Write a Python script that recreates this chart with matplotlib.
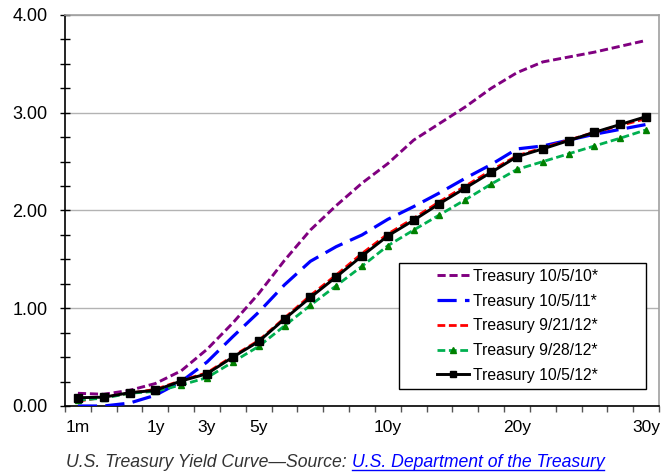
import numpy as np
import matplotlib
matplotlib.use("Agg")
import matplotlib.pyplot as plt
from matplotlib.patches import Rectangle
from matplotlib.lines import Line2D

# ---- data ----
maturities = ['1m', '3m', '6m', '1y', '2y', '3y', '4y', '5y', '6y', '7y', '8y', '9y',
              '10y', '12y', '14y', '16y', '18y', '20y', '22y', '24y', '26y', '28y', '30y']
shown_labels = ['1m', '1y', '3y', '5y', '10y', '20y', '30y']

y_10_5_10 = [0.13, 0.12, 0.16, 0.23, 0.36, 0.58, 0.85, 1.15, 1.49, 1.80, 2.05, 2.28,
             2.48, 2.72, 2.89, 3.06, 3.25, 3.41, 3.52, 3.57, 3.62, 3.68, 3.74]
y_10_5_11 = [0.00, 0.00, 0.03, 0.11, 0.25, 0.45, 0.71, 0.96, 1.24, 1.48, 1.63, 1.75,
             1.91, 2.04, 2.18, 2.33, 2.47, 2.63, 2.66, 2.72, 2.78, 2.83, 2.88]
y_9_21_12 = [0.05, 0.09, 0.13, 0.17, 0.26, 0.34, 0.51, 0.67, 0.90, 1.13, 1.34, 1.56,
             1.76, 1.92, 2.09, 2.25, 2.41, 2.56, 2.64, 2.72, 2.80, 2.87, 2.94]
y_9_28_12 = [0.06, 0.08, 0.13, 0.15, 0.215, 0.29, 0.45, 0.61, 0.82, 1.03, 1.23, 1.43,
             1.64, 1.80, 1.955, 2.11, 2.27, 2.42, 2.50, 2.58, 2.66, 2.74, 2.825]
y_10_5_12 = [0.085, 0.09, 0.136, 0.16, 0.256, 0.33, 0.50, 0.66, 0.89, 1.11, 1.32, 1.535,
             1.74, 1.90, 2.07, 2.23, 2.39, 2.55, 2.63, 2.715, 2.80, 2.88, 2.96]

plt.rcParams['font.family'] = ['Liberation Sans', 'DejaVu Sans']

fig = plt.figure(figsize=(6.62, 4.73), dpi=100, facecolor='white')
ax = fig.add_axes([65 / 662, 1 - 406 / 473, 594 / 662, 391 / 473])

x = np.arange(len(maturities))

ax.plot(x, y_10_5_10, color='#800080', lw=2.1, dashes=(2.8, 1.3), label='Treasury 10/5/10*', zorder=3)
ax.plot(x, y_10_5_11, color='#0000FF', lw=2.3, dashes=(6.0, 2.6), label='Treasury 10/5/11*', zorder=3)
ax.plot(x, y_9_21_12, color='#FF0000', lw=2.0, dashes=(2.8, 1.3), label='Treasury 9/21/12*', zorder=4)
ax.plot(x, y_9_28_12, color='#00B050', lw=2.0, dashes=(2.8, 1.3), marker='^', markersize=5,
        markerfacecolor='#008000', markeredgecolor='#008000', label='Treasury 9/28/12*', zorder=4)
ax.plot(x, y_10_5_12, color='black', lw=2.1, marker='s', markersize=5.5,
        label='Treasury 10/5/12*', zorder=5)

# axes ranges / ticks
ax.set_xlim(-0.5, len(maturities) - 0.5)
ax.set_ylim(0, 4)

ax.set_yticks(np.arange(0, 4.01, 1.0))
ax.set_yticklabels([f"{v:.2f}" for v in np.arange(0, 4.01, 1.0)], fontsize=13)
ax.set_yticks(np.arange(0, 4.01, 0.25), minor=True)
ax.tick_params(axis='y', which='both', direction='inout', length=7, width=1, pad=9)

lab_pos = [maturities.index(m) for m in shown_labels]
ax.set_xticks(lab_pos)
ax.set_xticklabels(shown_labels, fontsize=12.5)
ax.set_xticks(np.arange(-0.5, len(maturities)), minor=True)
ax.tick_params(axis='x', which='major', length=0, pad=10)
ax.tick_params(axis='x', which='minor', direction='out', length=4.5, width=1, color='#555555')

ax.grid(True, axis='y', which='major', color='#b3b3b3', lw=1)
ax.set_axisbelow(True)

for side in ['top', 'right']:
    ax.spines[side].set_color('#a0a0a0')
    ax.spines[side].set_linewidth(1.2)
for side in ['left', 'bottom']:
    ax.spines[side].set_color('black')
    ax.spines[side].set_linewidth(1.2)

# legend box drawn by hand so it can be wider than its content
ax.add_patch(Rectangle((0.562, 0.0435), 0.416, 0.322, transform=ax.transAxes,
                       facecolor='white', edgecolor='black', lw=1, zorder=6))
leg = ax.legend(loc='center', bbox_to_anchor=(0.762, 0.205), frameon=False, fontsize=11.3,
                handlelength=2.0, handletextpad=0.25, labelspacing=0.62, markerscale=0.8)
leg.set_zorder(7)

# caption with underlined blue "link" part
fig.canvas.draw()
renderer = fig.canvas.get_renderer()
t1 = fig.text(66 / 662, 1 - 462 / 473, 'U.S. Treasury Yield Curve\u2014Source: ', fontsize=12.7,
              style='italic', color='#333333', va='center', ha='left')
bb = t1.get_window_extent(renderer=renderer)
x_link = bb.x1 / fig.bbox.width
t2 = fig.text(x_link, 1 - 462 / 473, 'U.S. Department of the Treasury', fontsize=12.7,
              style='italic', color='#0000FF', va='center', ha='left')
bb2 = t2.get_window_extent(renderer=renderer)
y_ul = (bb2.y0 + 1) / fig.bbox.height
fig.add_artist(Line2D([bb2.x0 / fig.bbox.width, bb2.x1 / fig.bbox.width], [y_ul, y_ul],
                      color='#0000FF', lw=1))

fig.savefig('out.png', dpi=100, facecolor='white')
